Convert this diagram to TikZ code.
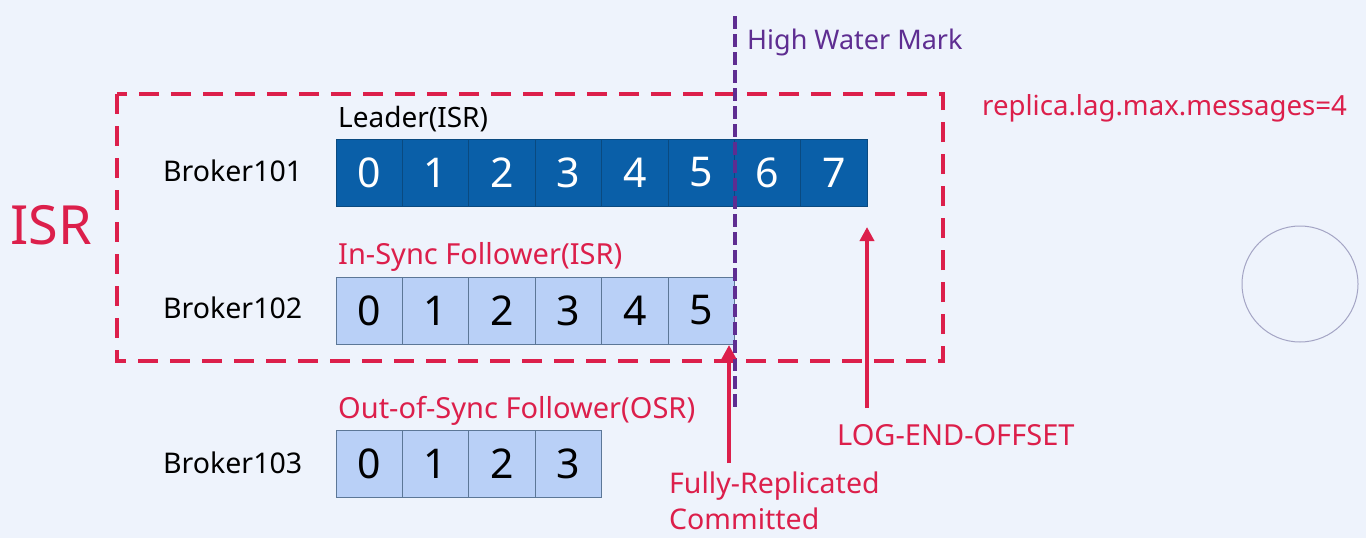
\documentclass[tikz,border=0pt]{standalone}
\usepackage{fontspec}
\setmainfont{Noto Sans}
\usetikzlibrary{arrows.meta}
\definecolor{bg}{HTML}{EEF3FC}
\definecolor{kred}{HTML}{DC1F4B}
\definecolor{kpurple}{HTML}{5E2D91}
\definecolor{dcell}{HTML}{0A5FA8}
\definecolor{dcellb}{HTML}{0A4A80}
\definecolor{lcellc}{HTML}{B9D0F7}
\definecolor{lcellb}{HTML}{5C7797}
\definecolor{circ}{HTML}{A4A4C4}
\tikzset{
  darkcell/.style={draw=dcellb, line width=1pt, fill=dcell, text=white, minimum width=66.4pt, minimum height=67pt, inner sep=0pt, font=\fontsize{41}{41}\selectfont},
  lightcell/.style={draw=lcellb, line width=1pt, fill=lcellc, text=black, minimum width=66.4pt, minimum height=67pt, inner sep=0pt, font=\fontsize{41}{41}\selectfont},
  broker/.style={anchor=west, font=\fontsize{28.5}{28.5}\selectfont, text=black, inner sep=0pt},
  rowlabel/.style={anchor=south west, inner sep=0pt},
  redtext/.style={text=kred, font=\fontsize{28.5}{28.5}\selectfont, inner sep=0pt},
  isrbox/.style={draw=kred, line width=4pt, dash pattern=on 20pt off 12pt},
  hwm/.style={draw=kpurple, line width=4pt, dash pattern=on 13pt off 5pt},
  redarrow/.style={draw=kred, line width=4.5pt, -{Triangle[length=14pt,width=14pt]}},
}
\begin{document}
\begin{tikzpicture}[x=1pt,y=-1pt]
\useasboundingbox[fill=bg] (0,0) rectangle (1366,538);
% ISR dashed box
\draw[isrbox] (117,94) rectangle (943,361);
\node[text=kred, font=\fontsize{54}{54}\selectfont, inner sep=0pt] (isr) at (51,225) {ISR};
% broker labels
\node[broker] (b101) at (163,171) {Broker101};
\node[broker] (b102) at (163,308) {Broker102};
\node[broker] (b103) at (163,463) {Broker103};
% cells
\foreach \i in {0,...,7} {
  \node[darkcell] (L\i) at ({369.2+66.4*\i},172.5) {\i};
}
\foreach \i in {0,...,5} {
  \node[lightcell] (F\i) at ({369.2+66.4*\i},310.5) {\i};
}
\foreach \i in {0,...,3} {
  \node[lightcell] (O\i) at ({369.2+66.4*\i},464) {\i};
}
% row labels
\node[rowlabel, text=black, font=\fontsize{28}{28}\selectfont] (lead) at (338,132) {Leader(ISR)};
\node[rowlabel, text=kred, font=\fontsize{29}{29}\selectfont] (insync) at (338,272) {In-Sync Follower(ISR)};
\node[rowlabel, text=kred, font=\fontsize{29}{29}\selectfont] (outsync) at (338,426) {Out-of-Sync Follower(OSR)};
% high water mark
\coordinate (hwtop) at (735,16);
\coordinate (hwbot) at (735,409);
\draw[hwm] (hwtop) -- (hwbot);
\node[anchor=west, text=kpurple, font=\fontsize{27}{27}\selectfont, inner sep=0pt] (hwmlabel) at (747,42) {High Water Mark};
% lag label
\node[anchor=west, text=kred, font=\fontsize{27.6}{27.6}\selectfont, inner sep=0pt] (lag) at (982,108) {replica.lag.max.messages=4};
% arrows
\coordinate (frbase) at (729,463);
\coordinate (frtip) at (729,345);
\draw[redarrow] (frbase) -- (frtip);
\coordinate (leobase) at (867,408);
\coordinate (leotip) at (867,227);
\draw[redarrow] (leobase) -- (leotip);
\node[redtext, anchor=west] (fully) at (669,486) {Fully-Replicated};
\node[redtext, anchor=west] (commit) at (669,519) {Committed};
\node[redtext, anchor=west, font=\fontsize{29}{29}\selectfont] (leo) at (837,435) {LOG-END-OFFSET};
% circle
\node[draw=circ, line width=1pt, circle, minimum size=116pt, inner sep=0pt] (ring) at (1300,284) {};
\end{tikzpicture}
\end{document}
